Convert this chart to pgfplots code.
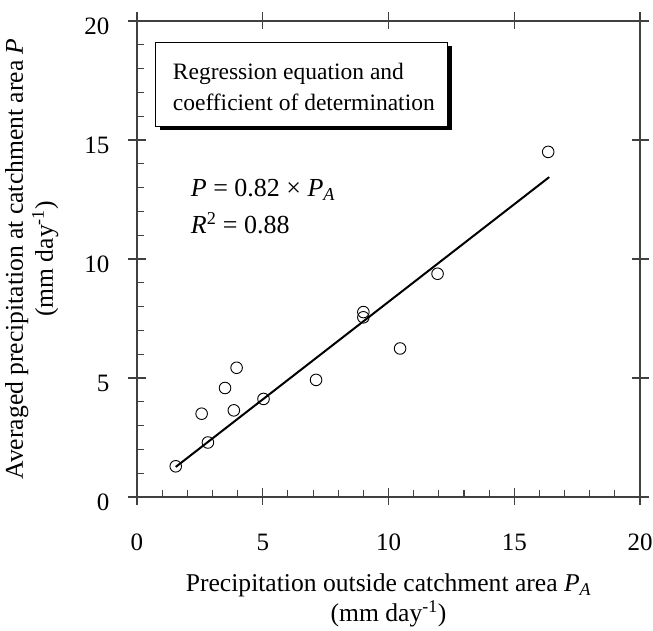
\documentclass[border=0pt]{standalone}
\usepackage{fontspec}
\setmainfont{Liberation Serif}
\usepackage{pgfplots}
\pgfplotsset{compat=1.18}
\newcommand{\tfont}{\fontsize{25}{30}\selectfont}
\newcommand{\lfont}{\fontsize{25.6}{30}\selectfont}
\begin{document}
\begin{tikzpicture}[x=1pt,y=1pt]
\useasboundingbox (0,0) rectangle (653,631);
% minor ticks (inward, bottom and left only)
\begin{axis}[
  at={(137pt,134pt)}, anchor=south west,
  scale only axis, width=503pt, height=476pt,
  xmin=0, xmax=20, ymin=0, ymax=20,
  xtick={0,5,...,20}, ytick={0,5,...,20},
  minor x tick num=4, minor y tick num=4,
  xtick pos=bottom, ytick pos=left,
  tick align=inside, major tick length=0pt, minor tick length=7pt,
  every tick/.style={black!75, line width=1.1pt},
  axis line style={draw=none},
  xticklabels={}, yticklabels={},
]
\end{axis}
\begin{axis}[
  at={(137pt,134pt)}, anchor=south west,
  scale only axis, width=503pt, height=476pt,
  xmin=0, xmax=20, ymin=0, ymax=20,
  xtick={0,5,...,20}, ytick={0,5,...,20},
  tick align=center, major tick length=17pt,
  every tick/.style={black!75, line width=1.1pt},
  axis line style={black!75, line width=1.2pt},
  /pgf/number format/assume math mode=true,
  ticklabel style={font=\tfont, inner sep=0pt},
  xticklabel style={anchor=base, yshift=-45pt},
  yticklabel style={anchor=base east, xshift=-19pt, yshift=-13.5pt},
  xlabel={Precipitation outside catchment area \textit{P}\textsubscript{\textit{A}}\\(mm day\textsuperscript{-1})},
  xlabel style={font=\lfont, align=center, at={(axis description cs:0.5,-0.2175)}, anchor=center},
  ylabel={Averaged precipitation at catchment area \textit{P}\\(mm day\textsuperscript{-1})},
  ylabel style={font=\lfont, align=center, at={(axis description cs:-0.209,0.5)}, anchor=center, rotate=0},
  clip=false,
]
\addplot[black, line width=2pt] coordinates {(1.54,1.263) (16.39,13.44)};
\addplot[only marks, mark=o, mark size=5.8pt, mark options={line width=0.9pt, black}] coordinates {
  (1.54,1.29) (2.57,3.50) (2.82,2.29) (3.50,4.58) (3.85,3.64) (3.96,5.43)
  (5.03,4.12) (7.12,4.92) (9.00,7.77) (9.00,7.55) (10.46,6.24) (11.95,9.38)
  (16.35,14.50)
};
\end{axis}
% text box with shadow
\fill[black] (159.5,501) rectangle (451.5,585);
\draw[black, line width=0.9pt, fill=white] (155.7,505) rectangle (447.5,589);
\node[anchor=base west, inner sep=0pt, font=\fontsize{23.5}{28}\selectfont] at (172.7,551) {Regression equation and};
\node[anchor=base west, inner sep=0pt, font=\fontsize{23.5}{28}\selectfont] at (172.7,520) {coefficient of determination};
\node[anchor=base west, inner sep=0pt, font=\fontsize{26}{30}\selectfont] at (190.7,434.3) {\textit{P} = 0.82 × \textit{P}\textsubscript{\textit{A}}};
\node[anchor=base west, inner sep=0pt, font=\fontsize{26}{30}\selectfont] at (190.7,397) {\textit{R}\textsuperscript{2} = 0.88};
\end{tikzpicture}
\end{document}
